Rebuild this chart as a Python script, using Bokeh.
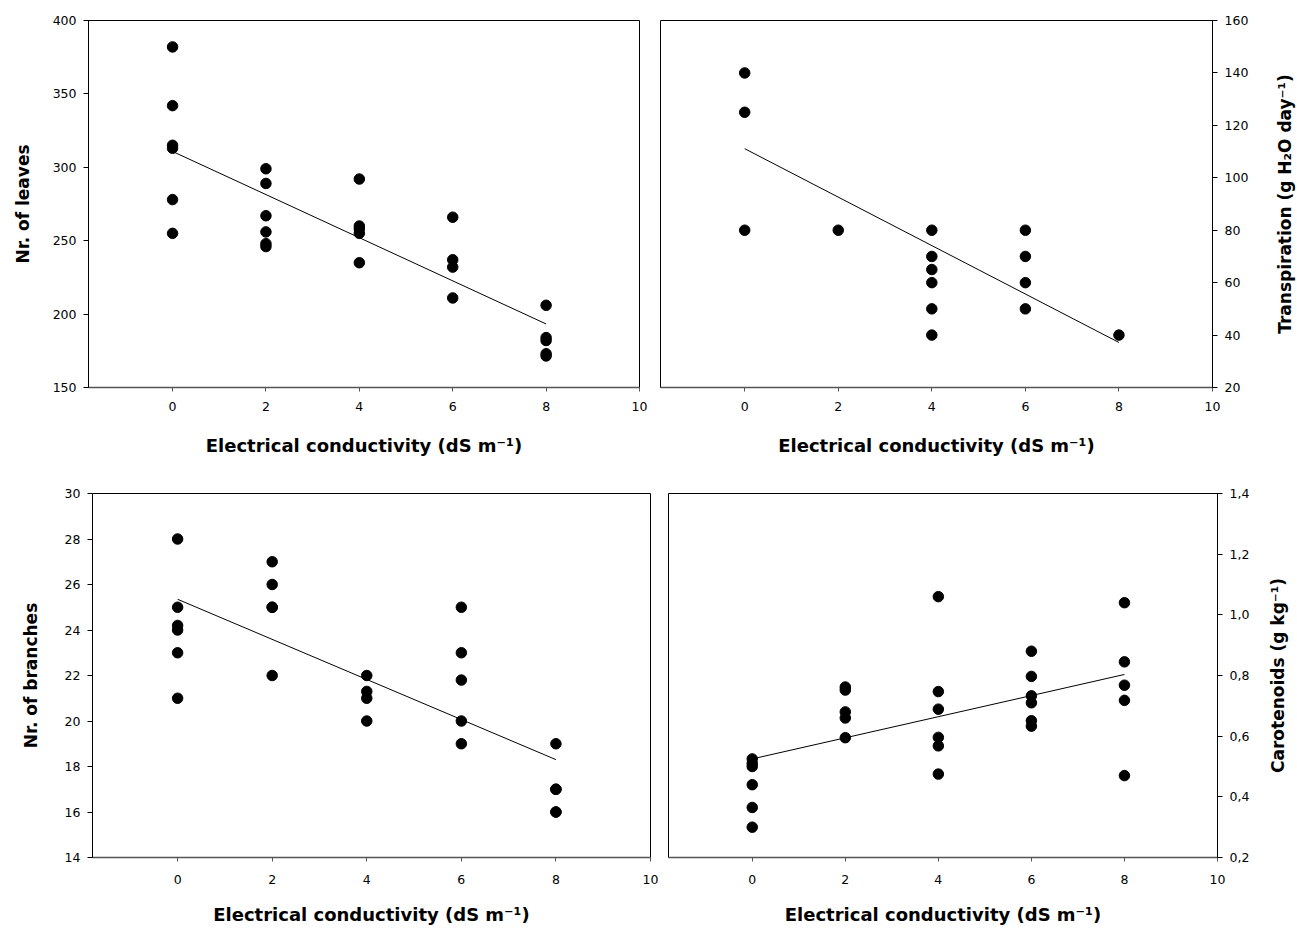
from bokeh.plotting import figure
from bokeh.layouts import column, row
from bokeh.models import Range1d, FixedTicker, CustomJSTickFormatter
from bokeh.embed import file_html
from bokeh.resources import INLINE

# ---------------- data ----------------
ec_ticks = [0, 2, 4, 6, 8, 10]
fit_ec = [0, 8]
x_title = "Electrical conductivity (dS m\u207b\u00b9)"

leaves_ec = [0, 0, 0, 0, 0, 0, 2, 2, 2, 2, 2, 2, 4, 4, 4, 4, 4, 6, 6, 6, 6, 8, 8, 8, 8, 8]
leaves = [382, 342, 315, 313, 278, 255,
          299, 289, 267, 256, 248, 246,
          292, 260, 258, 255, 235,
          266, 237, 232, 211,
          206, 184, 182, 173, 171.5]
leaves_fit = [310.8, -14.69]          # intercept, slope
leaves_ticks = [150, 200, 250, 300, 350, 400]
leaves_title = "Nr. of leaves"

transp_ec = [0, 0, 0, 2, 4, 4, 4, 4, 4, 4, 6, 6, 6, 6, 8]
transp = [140, 125, 80, 80, 80, 70, 65, 60, 50, 40, 80, 70, 60, 50, 40]
transp_fit = [111.1, -9.24]
transp_ticks = [20, 40, 60, 80, 100, 120, 140, 160]
transp_title = "Transpiration (g H\u2082O day\u207b\u00b9)"

branch_ec = [0, 0, 0, 0, 0, 0, 2, 2, 2, 2, 2, 4, 4, 4, 4, 6, 6, 6, 6, 6, 8, 8, 8, 8, 8]
branches = [28, 25, 24.2, 24, 23, 21,
            27, 26, 25, 25, 22,
            22, 21.3, 21, 20,
            25, 23, 21.8, 20, 19,
            19, 17, 17, 16, 16]
branches_fit = [25.35, -0.881]
branch_ticks = [14, 16, 18, 20, 22, 24, 26, 28, 30]
branch_title = "Nr. of branches"

carot_ec = [0, 0, 0, 0, 0, 0, 2, 2, 2, 2, 2, 4, 4, 4, 4, 4, 4,
            6, 6, 6, 6, 6, 6, 8, 8, 8, 8, 8]
carot = [0.525, 0.51, 0.50, 0.44, 0.365, 0.30,
         0.762, 0.752, 0.68, 0.66, 0.595,
         1.06, 0.747, 0.689, 0.596, 0.568, 0.475,
         0.88, 0.797, 0.733, 0.71, 0.651, 0.633,
         1.04, 0.845, 0.768, 0.718, 0.47]
carot_fit = [0.525, 0.0348]
carot_ticks = [0.2, 0.4, 0.6, 0.8, 1.0, 1.2, 1.4]
carot_title = "Carotenoids (g kg\u207b\u00b9)"

FONT = "DejaVu Sans"


def style_title(ax, text, standoff):
    ax.axis_label = text
    ax.axis_label_standoff = standoff
    ax.axis_label_text_font = FONT
    ax.axis_label_text_font_style = "bold"
    ax.axis_label_text_font_size = "17px"
    ax.axis_label_text_color = "black"


def panel(ec, vals, fit, yticks, side, bl, br, bt, bb, fw, fh,
          x_tick_standoff, x_standoff, ylabel=None, y_standoff=20, fmt=None):
    p = figure(frame_width=fw, frame_height=fh,
               min_border_left=bl, min_border_right=br,
               min_border_top=bt, min_border_bottom=bb,
               x_range=Range1d(-1.8, 10),
               y_range=Range1d(yticks[0], yticks[-1]),
               y_axis_location=side, title=None,
               output_backend="svg", toolbar_location=None)
    p.grid.visible = False
    p.background_fill_color = "white"
    p.border_fill_color = "white"
    p.outline_line_color = "black"
    p.outline_line_width = 1
    p.outline_line_alpha = 1

    fit_vals = [fit[0] + fit[1] * x for x in fit_ec]
    p.line(fit_ec, fit_vals, line_color="black", line_width=1)
    p.scatter(ec, vals, marker="circle", size=10.5,
              fill_color="black", line_color="black")

    xa = p.xaxis[0]
    xa.ticker = FixedTicker(ticks=ec_ticks)
    xa.minor_tick_line_color = None
    xa.major_tick_in = 0
    xa.major_tick_out = 4
    xa.axis_line_color = "#555555"
    xa.axis_line_width = 1.5
    xa.major_tick_line_color = "#555555"
    xa.major_label_text_font = FONT
    xa.major_label_text_font_size = "12.5px"
    xa.major_label_text_color = "black"
    xa.major_label_standoff = x_tick_standoff
    xa.axis_label = x_title
    xa.axis_label_standoff = x_standoff
    xa.axis_label_text_font = FONT
    xa.axis_label_text_font_style = "bold"
    xa.axis_label_text_font_size = "18px"
    xa.axis_label_text_color = "black"

    ya = p.yaxis[0]
    ya.ticker = FixedTicker(ticks=yticks)
    ya.minor_tick_line_color = None
    ya.major_tick_in = 0
    ya.major_tick_out = 5
    ya.axis_line_color = "black"
    ya.major_tick_line_color = "black"
    ya.major_label_text_font = FONT
    ya.major_label_text_font_size = "12.5px"
    ya.major_label_text_color = "black"
    ya.major_label_standoff = 7
    if fmt is not None:
        ya.formatter = fmt
    if ylabel is not None:
        style_title(ya, ylabel, y_standoff)
    return p


def title_strip(text, y_range, bl, bt, bb, fh, standoff):
    """Narrow strip carrying a bottom-to-top y title (right-hand panels)."""
    t = figure(frame_width=1, frame_height=fh,
               min_border_left=bl, min_border_right=0,
               min_border_top=bt, min_border_bottom=bb,
               x_range=Range1d(0, 1), y_range=y_range, title=None,
               output_backend="svg", toolbar_location=None)
    t.grid.visible = False
    t.outline_line_color = None
    t.background_fill_color = "white"
    t.border_fill_color = "white"
    t.xaxis.visible = False
    ya = t.yaxis[0]
    ya.ticker = FixedTicker(ticks=[])
    ya.minor_tick_line_color = None
    ya.major_tick_line_color = None
    ya.axis_line_color = None
    ya.major_label_text_font_size = "0px"
    style_title(ya, text, standoff)
    return t


p1 = panel(leaves_ec, leaves, leaves_fit, leaves_ticks, "left",
           88, 15, 20, 86, 551, 367, 10, 21, leaves_title, 17)
p2 = panel(transp_ec, transp, transp_fit, transp_ticks, "right",
           6, 40, 20, 86, 552, 367, 10, 21)
t2 = title_strip(transp_title, p2.y_range, 44, 20, 86, 367, 2)

comma_fmt = CustomJSTickFormatter(code="return tick.toFixed(1).replace('.', ',');")
p3 = panel(branch_ec, branches, branches_fit, branch_ticks, "left",
           92, 9, 20, 73, 558, 364, 13, 17, branch_title, 21)
p4 = panel(carot_ec, carot, carot_fit, carot_ticks, "right",
           9, 36, 20, 73, 549, 364, 13, 17, fmt=comma_fmt)
t4 = title_strip(carot_title, p4.y_range, 43, 20, 73, 364, 9)

layout = column(row(p1, p2, t2), row(p3, p4, t4))
open("out.html", "w").write(file_html(layout, INLINE))
